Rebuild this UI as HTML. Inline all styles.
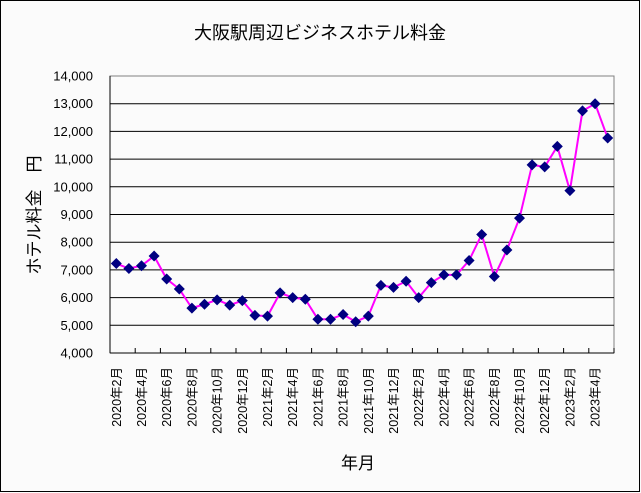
<!DOCTYPE html>
<html><head><meta charset="utf-8">
<style>
html,body{margin:0;padding:0;background:#fbfbfb}
svg{display:block}
text{font-family:"Liberation Sans","Noto Sans CJK JP",sans-serif;fill:#000}
</style></head>
<body>
<svg id="chart" width="641" height="493" viewBox="0 0 641 493" xmlns="http://www.w3.org/2000/svg">
<rect x="0.5" y="0.5" width="639" height="491" fill="#fbfbfb" stroke="#000" stroke-width="1"/>
<text x="320" y="39" font-size="18" text-anchor="middle">大阪駅周辺ビジネスホテル料金</text>
<text x="358" y="469" font-size="17" text-anchor="middle">年月</text>
<text transform="translate(40,215) rotate(-90)" font-size="17" text-anchor="middle">ホテル料金　円</text>
<g id="grid"></g><g id="axes"></g><g id="series"></g>
</svg>
<script>
const categories = ["2020年2月","2020年3月","2020年4月","2020年5月","2020年6月","2020年7月","2020年8月","2020年9月","2020年10月","2020年11月","2020年12月","2021年1月","2021年2月","2021年3月","2021年4月","2021年5月","2021年6月","2021年7月","2021年8月","2021年9月","2021年10月","2021年11月","2021年12月","2022年1月","2022年2月","2022年3月","2022年4月","2022年5月","2022年6月","2022年7月","2022年8月","2022年9月","2022年10月","2022年11月","2022年12月","2023年1月","2023年2月","2023年3月","2023年4月","2023年5月"];
const prices = [7230,7050,7150,7500,6670,6310,5620,5760,5920,5730,5890,5360,5330,6170,6000,5940,5220,5220,5390,5130,5330,6440,6370,6590,6000,6540,6820,6820,7340,8280,6760,7720,8870,10790,10720,11460,9860,12740,13000,11760];
const yTicks = [4000,5000,6000,7000,8000,9000,10000,11000,12000,13000,14000];
const yTickLabels = ["4,000","5,000","6,000","7,000","8,000","9,000","10,000","11,000","12,000","13,000","14,000"];

const NS="http://www.w3.org/2000/svg";
const L=110,R=614,T=76,B=353;
const yMin=4000,yMax=14000;
const y=v=>B-(v-yMin)/(yMax-yMin)*(B-T);
const bw=(R-L)/categories.length;
const x=i=>L+bw*(i+0.5);
function mk(tag,parent,attrs){const e=document.createElementNS(NS,tag);for(const k in attrs)e.setAttribute(k,attrs[k]);parent.appendChild(e);return e;}
const grid=document.getElementById('grid'),axes=document.getElementById('axes'),series=document.getElementById('series');
mk('rect',grid,{x:L,y:T,width:R-L,height:B-T,fill:'none',stroke:'#808080','stroke-width':1});
yTicks.forEach((v,i)=>{
  if(i>0&&i<yTicks.length-1){
    const g=mk('line',grid,{x1:L,x2:R,y1:y(v),y2:y(v),stroke:'#000','stroke-width':1});
    
    
  }
  const t=mk('text',axes,{x:93,y:y(v)+4.5,'font-size':13,'text-anchor':'end'});
  t.textContent=yTickLabels[i];
  
  
});
mk('line',axes,{x1:L,x2:L,y1:T,y2:B,stroke:'#000'});
mk('line',axes,{x1:L,x2:R,y1:B,y2:B,stroke:'#000'});
for(let i=2;i<=categories.length;i+=2){
  const xx=L+bw*i;
  mk('line',axes,{x1:xx,x2:xx,y1:B,y2:B-5,stroke:'#000'});
}
categories.forEach((c,i)=>{
  if(i%2!==0)return;
  const t=mk('text',axes,{transform:`translate(${x(i)+4.5},367) rotate(-90)`,'font-size':12.5,'text-anchor':'end'});
  t.textContent=c;
  
  
});
const line=mk('polyline',series,{points:prices.map((v,i)=>x(i)+','+y(v)).join(' '),fill:'none',stroke:'#ff00ff','stroke-width':2});


prices.forEach((v,i)=>{
  const cx=x(i),cy=y(v),s=5.5;
  const p=mk('polygon',series,{points:`${cx},${cy-s} ${cx+s},${cy} ${cx},${cy+s} ${cx-s},${cy}`,fill:'#000080'});
  
  
});
</script>
</body></html>
